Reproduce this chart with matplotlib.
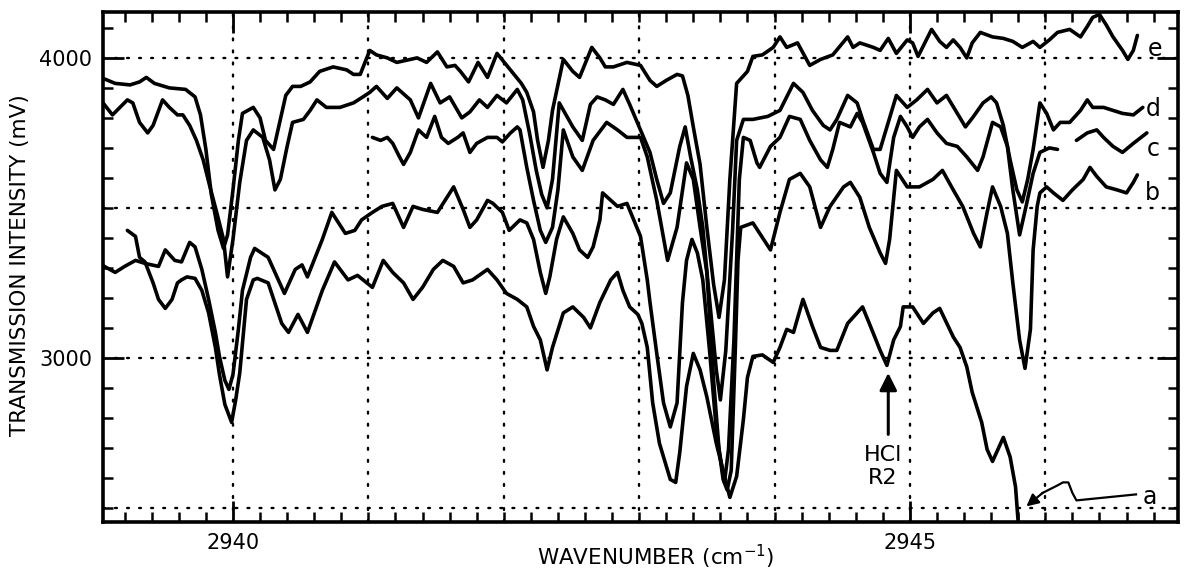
import numpy as np
import matplotlib
matplotlib.use("Agg")
import matplotlib.pyplot as plt
from matplotlib.ticker import MultipleLocator, FixedLocator

plt.rcParams['font.family'] = ['DejaVu Sans']

# ---------------- data (wavenumber cm^-1, transmission mV) ----------------
e_wn = [2939.00, 2939.05, 2939.13, 2939.24, 2939.31, 2939.36, 2939.42, 2939.53, 2939.65, 2939.72,
        2939.76, 2939.80, 2939.84, 2939.89, 2939.93, 2939.96, 2940.00, 2940.04, 2940.07, 2940.15,
        2940.20, 2940.24, 2940.30, 2940.34, 2940.39, 2940.44, 2940.50, 2940.57, 2940.64, 2940.74,
        2940.84, 2940.89, 2940.94, 2941.01, 2941.06, 2941.14, 2941.21, 2941.36, 2941.43, 2941.51,
        2941.58, 2941.64, 2941.68, 2941.74, 2941.81, 2941.88, 2941.95, 2942.04, 2942.13, 2942.17,
        2942.22, 2942.25, 2942.29, 2942.33, 2942.36, 2942.44, 2942.51, 2942.56, 2942.65, 2942.71,
        2942.75, 2942.81, 2942.91, 2943.01, 2943.08, 2943.13, 2943.20, 2943.28, 2943.32, 2943.36,
        2943.40, 2943.45, 2943.50, 2943.55, 2943.59, 2943.63, 2943.67, 2943.72, 2943.80, 2943.84,
        2943.91, 2943.99, 2944.04, 2944.09, 2944.17, 2944.26, 2944.34, 2944.43, 2944.54, 2944.58,
        2944.63, 2944.73, 2944.78, 2944.84, 2944.90, 2944.98, 2945.02, 2945.06, 2945.16, 2945.22,
        2945.27, 2945.32, 2945.37, 2945.42, 2945.46, 2945.52, 2945.61, 2945.69, 2945.76, 2945.83,
        2945.91, 2945.96, 2946.03, 2946.09, 2946.18, 2946.26, 2946.31, 2946.35, 2946.40, 2946.45,
        2946.50, 2946.57, 2946.61, 2946.65, 2946.68]
e_mv = [3950, 3930, 3915, 3910, 3920, 3935, 3915, 3900, 3895, 3870,
        3810, 3695, 3545, 3425, 3365, 3410, 3560, 3725, 3815, 3835,
        3800, 3725, 3695, 3775, 3875, 3905, 3905, 3920, 3955, 3970,
        3960, 3945, 3945, 4025, 4010, 4000, 3985, 4000, 3985, 4020,
        3970, 3975, 3955, 3920, 3985, 3935, 4015, 3965, 3915, 3885,
        3820, 3725, 3635, 3725, 3825, 3995, 3955, 3935, 4035, 4000,
        3970, 3970, 3985, 3975, 3925, 3905, 3925, 3945, 3940, 3875,
        3770, 3645, 3435, 3245, 3135, 3260, 3595, 3915, 3955, 4005,
        4010, 4035, 4070, 4035, 4050, 3975, 3995, 4010, 4070, 4035,
        4050, 4035, 4025, 4065, 4015, 4060, 4050, 4005, 4095, 4055,
        4035, 4060, 4035, 4000, 4050, 4085, 4070, 4065, 4055, 4035,
        4055, 4035, 4060, 4085, 4095, 4070, 4105, 4135, 4145, 4110,
        4070, 4025, 3995, 4025, 4075]

d_wn = [2939.00, 2939.04, 2939.11, 2939.22, 2939.26, 2939.31, 2939.37, 2939.41, 2939.48, 2939.53,
        2939.59, 2939.63, 2939.68, 2939.73, 2939.78, 2939.83, 2939.88, 2939.93, 2939.96, 2940.00,
        2940.05, 2940.10, 2940.15, 2940.22, 2940.27, 2940.31, 2940.35, 2940.40, 2940.44, 2940.52,
        2940.57, 2940.62, 2940.69, 2940.79, 2940.89, 2940.96, 2941.01, 2941.06, 2941.14, 2941.21,
        2941.31, 2941.37, 2941.46, 2941.53, 2941.60, 2941.69, 2941.75, 2941.82, 2941.88, 2941.95,
        2942.02, 2942.10, 2942.14, 2942.19, 2942.24, 2942.28, 2942.32, 2942.36, 2942.41, 2942.51,
        2942.58, 2942.64, 2942.69, 2942.75, 2942.81, 2942.88, 2942.93, 2943.01, 2943.08, 2943.13,
        2943.18, 2943.23, 2943.30, 2943.34, 2943.38, 2943.43, 2943.47, 2943.52, 2943.57, 2943.60,
        2943.64, 2943.69, 2943.72, 2943.77, 2943.84, 2943.95, 2944.04, 2944.14, 2944.21, 2944.28,
        2944.36, 2944.41, 2944.46, 2944.54, 2944.61, 2944.65, 2944.73, 2944.78, 2944.83, 2944.90,
        2944.98, 2945.05, 2945.13, 2945.20, 2945.27, 2945.35, 2945.41, 2945.47, 2945.54, 2945.60,
        2945.64, 2945.69, 2945.74, 2945.79, 2945.83, 2945.87, 2945.91, 2945.96, 2946.01, 2946.06,
        2946.11, 2946.18, 2946.26, 2946.31, 2946.35, 2946.43, 2946.50, 2946.57, 2946.65, 2946.72]
d_mv = [3825, 3850, 3810, 3860, 3850, 3785, 3750, 3775, 3860, 3835,
        3810, 3810, 3775, 3725, 3660, 3570, 3485, 3395, 3270, 3395,
        3585, 3725, 3760, 3735, 3660, 3560, 3595, 3705, 3785, 3795,
        3825, 3860, 3835, 3835, 3850, 3870, 3885, 3905, 3865, 3900,
        3860, 3800, 3915, 3850, 3870, 3800, 3820, 3860, 3835, 3875,
        3850, 3895, 3860, 3750, 3625, 3545, 3500, 3595, 3850, 3770,
        3725, 3845, 3870, 3860, 3845, 3895, 3845, 3760, 3685, 3595,
        3515, 3550, 3705, 3770, 3670, 3560, 3435, 3195, 2960, 2860,
        3025, 3425, 3725, 3795, 3795, 3805, 3825, 3915, 3885, 3825,
        3775, 3760, 3795, 3875, 3850, 3795, 3695, 3695, 3770, 3875,
        3835, 3860, 3895, 3850, 3875, 3815, 3770, 3805, 3850, 3870,
        3850, 3775, 3660, 3560, 3520, 3595, 3695, 3850, 3815, 3760,
        3785, 3785, 3825, 3860, 3835, 3835, 3825, 3815, 3810, 3835]

c_wn = [2941.03, 2941.09, 2941.14, 2941.18, 2941.23, 2941.26, 2941.31, 2941.37, 2941.43, 2941.49,
        2941.54, 2941.59, 2941.66, 2941.70, 2941.75, 2941.80, 2941.88, 2941.95, 2941.99, 2942.05,
        2942.10, 2942.12, 2942.17, 2942.22, 2942.27, 2942.31, 2942.36, 2942.40, 2942.44, 2942.51,
        2942.58, 2942.66, 2942.76, 2942.84, 2942.91, 2943.01, 2943.06, 2943.13, 2943.21, 2943.28,
        2943.35, 2943.40, 2943.45, 2943.50, 2943.55, 2943.59, 2943.63, 2943.66, 2943.70, 2943.74,
        2943.77, 2943.82, 2943.87, 2943.89, 2943.97, 2944.04, 2944.11, 2944.19, 2944.26, 2944.34,
        2944.39, 2944.43, 2944.48, 2944.56, 2944.61, 2944.65, 2944.73, 2944.78, 2944.83, 2944.88,
        2944.93, 2944.98, 2945.02, 2945.07, 2945.13, 2945.20, 2945.27, 2945.35, 2945.42, 2945.50,
        2945.54, 2945.61, 2945.67, 2945.72, 2945.76, 2945.81, 2945.86, 2945.91, 2945.96, 2946.03,
        2946.09, np.nan, 2946.23, 2946.31, 2946.38, 2946.43, 2946.50, 2946.57, 2946.65, 2946.75]
c_mv = [3735, 3725, 3735, 3715, 3670, 3645, 3685, 3760, 3735, 3805,
        3735, 3715, 3735, 3750, 3685, 3715, 3735, 3735, 3720, 3750,
        3770, 3760, 3635, 3525, 3425, 3385, 3435, 3560, 3760, 3670,
        3625, 3725, 3785, 3760, 3735, 3735, 3670, 3525, 3325, 3435,
        3650, 3595, 3435, 3285, 2925, 2695, 2585, 2695, 3060, 3595,
        3735, 3725, 3650, 3635, 3705, 3735, 3805, 3795, 3725, 3660,
        3635, 3695, 3785, 3770, 3815, 3785, 3685, 3615, 3585, 3735,
        3805, 3770, 3735, 3770, 3795, 3750, 3715, 3705, 3670, 3625,
        3670, 3785, 3770, 3705, 3560, 3410, 3510, 3615, 3685, 3700,
        3695, np.nan, 3725, 3750, 3760, 3735, 3705, 3685, 3715, 3750]

b_wn = [2939.00, 2939.03, 2939.13, 2939.20, 2939.28, 2939.35, 2939.45, 2939.50, 2939.57, 2939.62,
        2939.68, 2939.72, 2939.77, 2939.82, 2939.87, 2939.90, 2939.94, 2939.97, 2940.00, 2940.04,
        2940.07, 2940.13, 2940.16, 2940.26, 2940.38, 2940.46, 2940.51, 2940.55, 2940.66, 2940.73,
        2940.83, 2940.90, 2940.95, 2941.03, 2941.10, 2941.18, 2941.26, 2941.33, 2941.40, 2941.51,
        2941.63, 2941.70, 2941.75, 2941.80, 2941.88, 2941.92, 2941.99, 2942.04, 2942.12, 2942.17,
        2942.22, 2942.27, 2942.31, 2942.34, 2942.39, 2942.44, 2942.51, 2942.56, 2942.62, 2942.66,
        2942.71, 2942.73, 2942.84, 2942.91, 2943.01, 2943.06, 2943.08, 2943.13, 2943.18, 2943.23,
        2943.28, 2943.30, 2943.32, 2943.35, 2943.39, 2943.43, 2943.47, 2943.52, 2943.57, 2943.62,
        2943.65, 2943.68, 2943.71, 2943.73, 2943.75, 2943.84, 2943.92, 2943.97, 2944.04, 2944.11,
        2944.19, 2944.26, 2944.34, 2944.41, 2944.51, 2944.56, 2944.63, 2944.70, 2944.78, 2944.82,
        2944.85, 2944.90, 2944.98, 2945.07, 2945.17, 2945.24, 2945.32, 2945.39, 2945.47, 2945.52,
        2945.57, 2945.61, 2945.67, 2945.72, 2945.76, 2945.81, 2945.85, 2945.89, 2945.91, 2945.94,
        2945.96, 2946.01, 2946.06, 2946.13, 2946.20, 2946.28, 2946.33, 2946.38, 2946.45, 2946.53,
        2946.60, 2946.65, 2946.68]
b_mv = [3320, 3310, 3285, 3305, 3325, 3315, 3305, 3360, 3325, 3320,
        3385, 3370, 3295, 3195, 3085, 3005, 2925, 2895, 2945, 3095,
        3225, 3335, 3365, 3335, 3215, 3295, 3310, 3270, 3395, 3485,
        3415, 3425, 3460, 3485, 3505, 3515, 3435, 3505, 3495, 3485,
        3570, 3495, 3435, 3460, 3525, 3515, 3485, 3425, 3460, 3450,
        3395, 3285, 3215, 3270, 3395, 3470, 3415, 3360, 3335, 3370,
        3460, 3550, 3505, 3515, 3405, 3260, 3185, 3015, 2850, 2770,
        2850, 3015, 3185, 3325, 3395, 3350, 3260, 3025, 2760, 2595,
        2560, 2625, 3025, 3325, 3435, 3450, 3395, 3360, 3485, 3595,
        3615, 3570, 3435, 3505, 3570, 3585, 3535, 3435, 3350, 3315,
        3395, 3625, 3570, 3570, 3595, 3625, 3560, 3505, 3415, 3370,
        3485, 3570, 3505, 3415, 3250, 3060, 2965, 3095, 3360, 3505,
        3550, 3570, 3550, 3525, 3560, 3595, 3635, 3605, 3570, 3560,
        3550, 3585, 3610]

a_wn = [2939.22, 2939.28, 2939.31, 2939.35, 2939.41, 2939.45, 2939.50, 2939.55, 2939.59, 2939.62,
        2939.66, 2939.72, 2939.77, 2939.82, 2939.87, 2939.90, 2939.94, 2939.99, 2940.02, 2940.05,
        2940.10, 2940.15, 2940.18, 2940.26, 2940.36, 2940.41, 2940.48, 2940.55, 2940.66, 2940.75,
        2940.85, 2940.92, 2941.03, 2941.11, 2941.18, 2941.26, 2941.33, 2941.40, 2941.48, 2941.55,
        2941.63, 2941.70, 2941.77, 2941.88, 2941.95, 2942.02, 2942.10, 2942.17, 2942.22, 2942.27,
        2942.32, 2942.36, 2942.44, 2942.51, 2942.59, 2942.64, 2942.71, 2942.79, 2942.84, 2942.88,
        2942.93, 2942.99, 2943.02, 2943.06, 2943.10, 2943.15, 2943.23, 2943.27, 2943.30, 2943.35,
        2943.40, 2943.45, 2943.50, 2943.57, 2943.65, 2943.67, 2943.72, 2943.77, 2943.80, 2943.84,
        2943.91, 2943.99, 2944.04, 2944.09, 2944.14, 2944.21, 2944.28, 2944.34, 2944.41, 2944.46,
        2944.54, 2944.58, 2944.65, 2944.70, 2944.78, 2944.83, 2944.88, 2944.93, 2944.95, 2945.02,
        2945.10, 2945.17, 2945.22, 2945.32, 2945.37, 2945.42, 2945.46, 2945.53, 2945.57, 2945.61,
        2945.69, 2945.74, 2945.78, 2945.80]
a_mv = [3425, 3405, 3335, 3320, 3250, 3195, 3165, 3195, 3250, 3260,
        3270, 3265, 3225, 3150, 3035, 2945, 2845, 2785, 2860, 2950,
        3195, 3260, 3265, 3250, 3115, 3085, 3145, 3085, 3225, 3320,
        3260, 3275, 3235, 3325, 3285, 3250, 3195, 3235, 3295, 3325,
        3305, 3250, 3260, 3295, 3260, 3215, 3195, 3170, 3105, 3060,
        2960, 3035, 3150, 3170, 3135, 3100, 3185, 3260, 3285, 3225,
        3170, 3145, 3115, 3035, 2850, 2715, 2595, 2585, 2685, 2905,
        3015, 2960, 2870, 2715, 2570, 2535, 2605, 2795, 2935, 3005,
        3010, 2985, 3035, 3095, 3085, 3195, 3105, 3035, 3025, 3025,
        3115, 3135, 3170, 3115, 3025, 2975, 3060, 3105, 3170, 3170,
        3115, 3150, 3165, 3070, 3035, 2970, 2885, 2785, 2695, 2655,
        2735, 2670, 2570, 2450]

curve_labels = ['e', 'd', 'c', 'b', 'a']
label_wn = [2946.81, 2946.80, 2946.80, 2946.79, 2946.77]
label_mv = [4030, 3830, 3695, 3550, 2535]

# arrow from label "a" to curve a
a_arrow_wn = [2946.67, 2946.23, 2946.20, 2946.17, 2946.13, 2946.09, 2945.98]
a_arrow_mv = [2545, 2525, 2550, 2585, 2585, 2575, 2550]
a_arrow_tip = (2945.86, 2505)

hcl_tip = (2944.84, 2950)
hcl_tail = (2944.84, 2745)
hcl_text_pos = (2944.80, 2637)

grid_x = [2940, 2941, 2942, 2943, 2944, 2945, 2946]
grid_y = [2500, 3000, 3500, 4000]
xtick_major = [2940, 2945]
ytick_major = [3000, 4000]

# ---------------- figure ----------------
fig = plt.figure(figsize=(11.93, 5.73), dpi=100)
ax = fig.add_axes([103/1193, 1 - 522/573, (1178 - 103)/1193, (522 - 12)/573])
ax.set_xlim(2939.04, 2946.98)
ax.set_ylim(2453, 4153)

for gx in grid_x:
    ax.axvline(gx, color='black', lw=1.7, dashes=(0.8, 4.3), dash_capstyle='round', zorder=1)
for gy in grid_y:
    ax.axhline(gy, color='black', lw=1.7, dashes=(0.8, 4.3), dash_capstyle='round', zorder=1)

lw = 2.6
for wn, mv in [(e_wn, e_mv), (d_wn, d_mv), (c_wn, c_mv), (b_wn, b_mv), (a_wn, a_mv)]:
    ax.plot(wn, mv, color='black', lw=lw, solid_joinstyle='round', solid_capstyle='round', zorder=3)

for lab, x, y in zip(curve_labels, label_wn, label_mv):
    ax.text(x, y, lab, fontsize=17, ha='center', va='center', color='black', zorder=4)

# label "a" arrow
ax.plot(a_arrow_wn, a_arrow_mv, color='black', lw=1.6, zorder=4)
ax.annotate('', xy=a_arrow_tip, xytext=(a_arrow_wn[-1], a_arrow_mv[-1]),
            arrowprops=dict(arrowstyle='-|>', color='black', lw=1.6, mutation_scale=18,
                            shrinkA=0, shrinkB=0), zorder=4)

# HCl R2 annotation
ax.annotate('', xy=hcl_tip, xytext=hcl_tail,
            arrowprops=dict(arrowstyle='-|>', color='black', lw=2.2, mutation_scale=26,
                            shrinkA=0, shrinkB=0), zorder=4)
ax.text(hcl_text_pos[0], hcl_text_pos[1], 'HCl\nR2', fontsize=16, ha='center', va='center',
        linespacing=1.2, zorder=4)

# ticks
ax.xaxis.set_major_locator(FixedLocator(xtick_major))
ax.xaxis.set_minor_locator(MultipleLocator(0.2))
ax.yaxis.set_major_locator(FixedLocator(ytick_major))
ax.yaxis.set_minor_locator(MultipleLocator(100))
ax.xaxis.set_major_formatter(matplotlib.ticker.FuncFormatter(lambda v, p: f"{v:.0f}"))
ax.yaxis.set_major_formatter(matplotlib.ticker.FuncFormatter(lambda v, p: f"{v:.0f}"))
ax.tick_params(which='both', direction='in', top=True, right=True, color='black')
ax.tick_params(which='major', length=15, width=2.0, labelsize=15, pad=8)
ax.tick_params(which='minor', length=7, width=1.8)

for s in ax.spines.values():
    s.set_linewidth(2.6)

fig.text(20/1193, 1 - 265/573, 'TRANSMISSION INTENSITY (mV)', rotation=90,
         ha='center', va='center', fontsize=15.5)
fig.text(656/1193, 1 - 557/573, 'WAVENUMBER (cm$^{-1}$)', ha='center', va='center',
         fontsize=15.5)

fig.savefig('out.png', dpi=100, facecolor='white')
